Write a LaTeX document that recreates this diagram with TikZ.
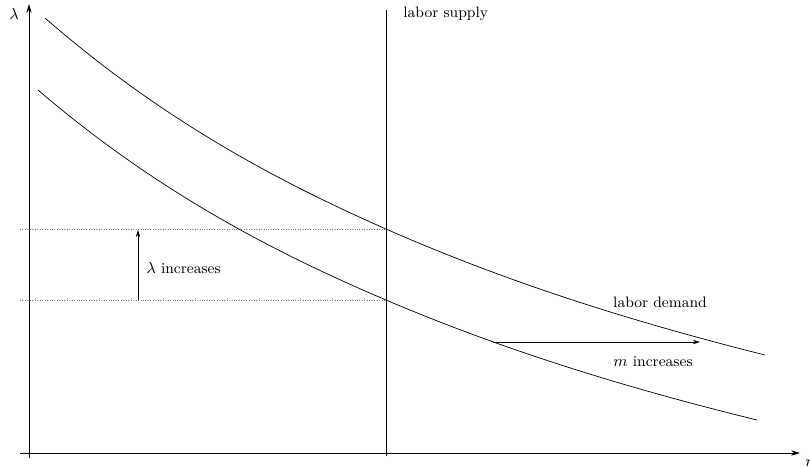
\documentclass[tikz,border=0pt]{standalone}
\usetikzlibrary{arrows.meta}

\tikzset{
    axis/.style={-{Stealth[length=5pt,width=3pt]}, line width=0.5pt},
    curve/.style={line width=0.4pt},
    moveto/.style={-{Stealth[length=4pt,width=2.5pt]}, line width=0.4pt},
    guide/.style={densely dotted, line width=0.4pt, gray},
    lbl/.style={font=\fontsize{8.6}{10}\selectfont, inner sep=0pt}
}

\begin{document}
\begin{tikzpicture}[x=0.02cm, y=-0.02cm]

    \useasboundingbox (0,0) rectangle (810,468);

    % Axes
    \coordinate (O) at (29,453);
    \coordinate (ytop) at (29,4);
    \coordinate (ybot) at (29,458);
    \coordinate (xleft) at (20,453);
    \coordinate (xend) at (800,453);
    \draw[axis] (ybot) -- (ytop);
    \draw[axis] (xleft) -- (xend);

    % Labels
    \node[lbl] (lam) at (14,14) {$\lambda$};
    \node[lbl, anchor=west] (nlab) at (805,463) {$n$};

    % Labor supply
    \coordinate (stop) at (386,10);
    \coordinate (sbot) at (386,456);
    \draw[line width=0.45pt] (sbot) -- (stop);
    \node[lbl, anchor=west] (supply) at (403,14) {labor supply};

    % Equilibrium levels
    \coordinate (hiL) at (20,229);
    \coordinate (hiR) at (386,229);
    \coordinate (loL) at (20,300);
    \coordinate (loR) at (386,300);
    \draw[guide] (hiL) -- (hiR);
    \draw[guide] (loL) -- (loR);

    % Labor demand, before and after
    \draw[curve]
        (45,18)
        .. controls (158.7,117.0) and (272.3,179.0) ..
        (386,229)
        .. controls (512.3,284.5) and (638.7,323.3) ..
        (765,355);
    \draw[curve]
        (38,90)
        .. controls (154,189.3) and (270,250.7) ..
        (386,300)
        .. controls (509.7,352.6) and (633.3,389.6) ..
        (757,420);
    \node[lbl] (demand) at (660,302) {labor demand};

    % Shifts
    \coordinate (lamA) at (138,300);
    \coordinate (lamB) at (138,230);
    \draw[moveto] (lamA) -- (lamB);
    \node[lbl, anchor=west] (laminc) at (146,268) {$\lambda$ increases};

    \coordinate (mA) at (493,342);
    \coordinate (mB) at (700,342);
    \draw[moveto] (mA) -- (mB);
    \node[lbl] (minc) at (653,362) {$m$ increases};

\end{tikzpicture}
\end{document}
